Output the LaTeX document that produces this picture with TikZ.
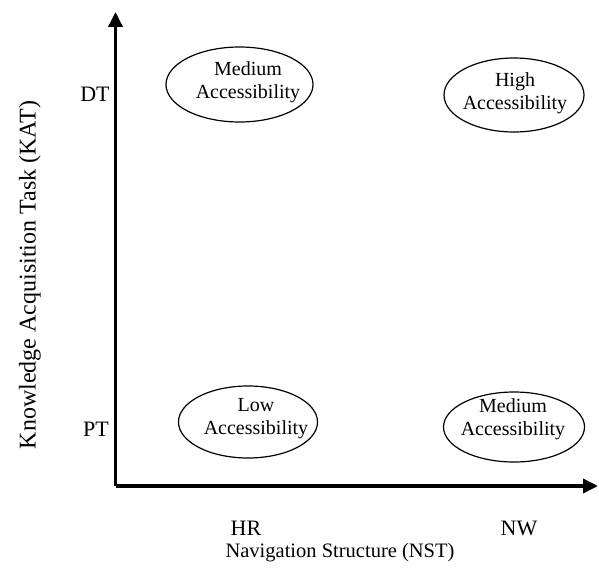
\documentclass[tikz,border=0pt]{standalone}
\usepackage{fontspec}
\setmainfont{Liberation Serif}
\usetikzlibrary{shapes.geometric,arrows.meta}
\begin{document}
\begin{tikzpicture}[x=1pt,y=-1pt,
  axis/.style={line width=3.5pt,-{Triangle[length=15pt,width=14pt]}},
  zone/.style={ellipse,draw,line width=1.2pt,inner sep=0pt,
    minimum width=140pt,minimum height=72pt},
  zonetext/.style={align=center,inner sep=0pt,
    font=\fontsize{20}{23}\selectfont},
  ticklabel/.style={font=\fontsize{22}{25}\selectfont},
  axistitle/.style={font=\fontsize{20.5}{24}\selectfont}]
\useasboundingbox (0,0) rectangle (599,567);
% axes
\coordinate (o) at (115.5,486);
\coordinate (ytop) at (115.5,12);
\coordinate (xend) at (598,486);
\draw[axis] (o) -- (ytop);
\draw[axis] (o) -- (xend);
% category ellipses
\node[zone,minimum width=147pt,minimum height=75pt] (mt) at (239.5,84.5) {};
\node[zonetext] (mtt) at (248,82) {Medium\\Accessibility};
\node[zone,minimum height=74pt] (hi) at (514,95) {};
\node[zonetext] (hit) at (515,93) {High\\Accessibility};
\node[zone,minimum width=139pt] (lo) at (248,422) {};
\node[zonetext] (lot) at (256,419) {Low\\Accessibility};
\node[zone,minimum width=141pt,minimum height=70pt] (mb) at (514,427) {};
\node[zonetext] (mbt) at (513,419) {Medium\\Accessibility};
% tick labels
\node[ticklabel] (dt) at (95,94) {DT};
\node[ticklabel] (pt) at (96,429) {PT};
\node[ticklabel] (hr) at (246,528) {HR};
\node[ticklabel] (nw) at (519,528) {NW};
% axis titles
\node[axistitle] (xlab) at (340,553) {Navigation Structure (NST)};
\node[axistitle,rotate=90,font=\fontsize{24}{26}\selectfont] (ylab) at (30,275) {Knowledge Acquisition Task (KAT)};
\end{tikzpicture}
\end{document}
